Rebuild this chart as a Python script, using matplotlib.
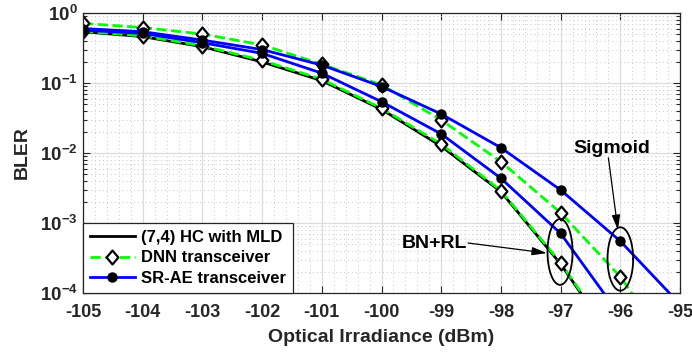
import numpy as np
import matplotlib
matplotlib.use("Agg")
import matplotlib.pyplot as plt
from matplotlib.path import Path
from matplotlib.ticker import LogLocator, MultipleLocator, NullFormatter

plt.rcParams['font.family'] = ['Liberation Sans', 'DejaVu Sans']
plt.rcParams['font.weight'] = 'bold'
plt.rcParams['mathtext.default'] = 'bf'
plt.rcParams['axes.unicode_minus'] = False

# Data
irradiance = [-105, -104, -103, -102, -101, -100, -99, -98, -97, -96, -95]

hc_mld = [0.54, 0.46, 0.33, 0.20, 0.108, 0.042, 0.0125, 0.0028, 0.00026, 1.5e-5]
dnn_bnrl = [0.55, 0.47, 0.34, 0.21, 0.113, 0.0435, 0.0134, 0.0029, 0.00027, 1.6e-5]
dnn_sigmoid = [0.71, 0.62, 0.50, 0.35, 0.185, 0.094, 0.0296, 0.0075, 0.0014, 0.000171, 1.0e-5]
srae_bnrl = [0.57, 0.51, 0.376, 0.265, 0.138, 0.054, 0.0187, 0.00435, 0.00071, 4.7e-5]
srae_sigmoid = [0.60, 0.54, 0.41, 0.30, 0.18, 0.089, 0.036, 0.0119, 0.00296, 0.00055, 6.9e-5]

GREEN = '#00ff00'
BLUE = '#0000ff'
# MATLAB-like diamond, a bit taller than wide
diamond = Path([(0, 1), (0.85, 0), (0, -1), (-0.85, 0), (0, 1)],
               [Path.MOVETO, Path.LINETO, Path.LINETO, Path.LINETO, Path.CLOSEPOLY])

fig = plt.figure(figsize=(6.92, 3.58), dpi=100)
ax = fig.add_axes([0.12, 0.1816, 0.8627, 0.7821])

lw = 2.0
ax.plot(irradiance[:len(hc_mld)], hc_mld, color='black', lw=lw,
        label='(7,4) HC with MLD')
dnn_kw = dict(color=GREEN, ls='--', lw=lw, marker=diamond, markersize=10,
              markerfacecolor='white', markeredgecolor='black', markeredgewidth=1.6)
srae_kw = dict(color=BLUE, ls='-', lw=lw, marker='o', markersize=6.5,
               markerfacecolor='black', markeredgecolor='black')
ax.plot(irradiance[:len(dnn_bnrl)], dnn_bnrl, label='DNN transceiver', **dnn_kw)
ax.plot(irradiance[:len(srae_bnrl)], srae_bnrl, label='SR-AE transceiver', **srae_kw)
ax.plot(irradiance[:len(dnn_sigmoid)], dnn_sigmoid, **dnn_kw)
ax.plot(irradiance[:len(srae_sigmoid)], srae_sigmoid, **srae_kw)

ax.set_yscale('log')
ax.set_xlim(-105, -95)
ax.set_ylim(1e-4, 1)

# ticks and grid, MATLAB look
ax.xaxis.set_major_locator(MultipleLocator(1))
ax.xaxis.set_minor_locator(MultipleLocator(0.2))
ax.yaxis.set_major_locator(LogLocator(base=10, numticks=10))
ax.yaxis.set_minor_locator(LogLocator(base=10, subs=np.arange(2, 10), numticks=20))
ax.yaxis.set_minor_formatter(NullFormatter())
ax.tick_params(which='both', direction='in', top=True, right=True,
               labelsize=13, colors='#262626', width=0.8)
ax.tick_params(which='major', length=5)
ax.tick_params(axis='x', which='major', pad=8)
ax.tick_params(axis='y', which='major', pad=4, labelsize=13.5)
ax.tick_params(axis='y', which='minor', length=3)
ax.tick_params(axis='x', which='minor', length=0)
ax.grid(which='major', color='#dcdcdc', lw=0.9, ls='-')
ax.grid(which='minor', color='#c8c8c8', lw=0.7, ls=(0, (1, 3)))
ax.set_axisbelow(True)
for sp in ax.spines.values():
    sp.set_color('#262626')
    sp.set_linewidth(0.9)

ax.set_xlabel('Optical Irradiance (dBm)', fontsize=14, fontweight='bold',
              color='#262626', labelpad=6)
ax.set_ylabel('BLER', fontsize=14, fontweight='bold', color='#262626', labelpad=6)

leg = ax.legend(loc='lower left', fontsize=12, frameon=True, fancybox=False,
                borderaxespad=0, handlelength=2.7, handletextpad=0.4,
                borderpad=0.4, labelspacing=0.35, framealpha=1)
leg.get_frame().set_edgecolor('#262626')
leg.get_frame().set_linewidth(0.9)
for t in leg.get_texts():
    t.set_color('black')

# ellipses around the grouped points (drawn in log space)
t = np.linspace(0, 2 * np.pi, 200)
for cx, cy, a, b in [(-97.01, -3.414, 0.21, 0.47), (-96.0, -3.514, 0.215, 0.453)]:
    ax.plot(cx + a * np.cos(t), 10 ** (cy + b * np.sin(t)), color='black', lw=1.3)

arrow = dict(arrowstyle='-|>,head_length=0.9,head_width=0.25', color='black',
             lw=0.9, shrinkA=0, shrinkB=0)
ax.text(-96.14, 10 ** -1.929, 'Sigmoid', fontsize=14, fontweight='bold',
        ha='center', va='center')
ax.annotate('', xy=(-96.04, 10 ** -3.1), xytext=(-96.2, 10 ** -2.07),
            arrowprops=arrow)
ax.text(-99.11, 10 ** -3.3, 'BN+RL', fontsize=14, fontweight='bold',
        ha='center', va='center')
ax.annotate('', xy=(-97.23, 10 ** -3.43), xytext=(-98.55, 10 ** -3.286),
            arrowprops=arrow)

fig.savefig('out.png', dpi=100)
